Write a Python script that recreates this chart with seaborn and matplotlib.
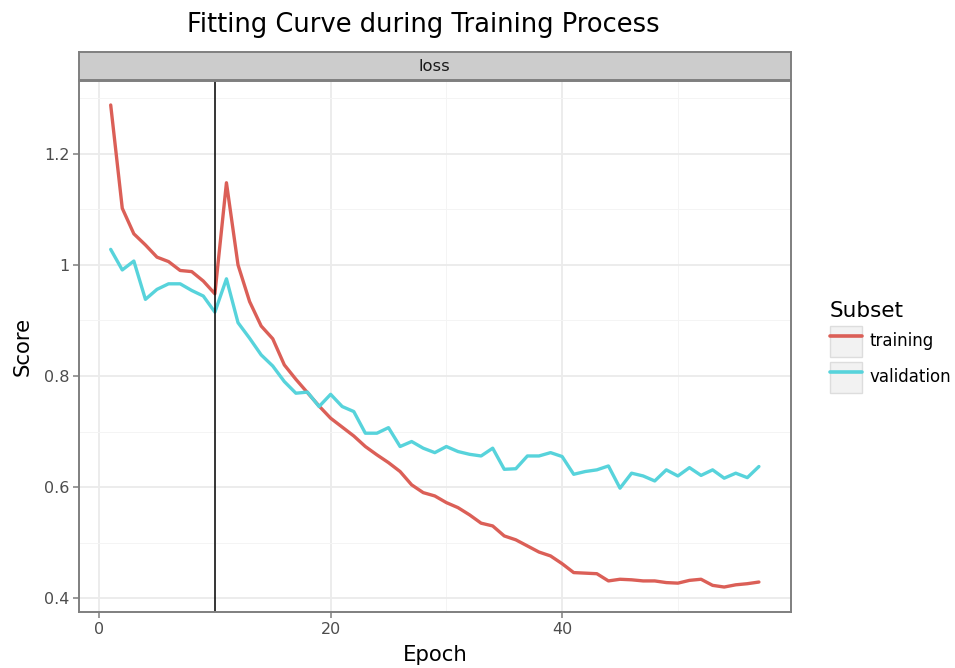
import numpy as np
import pandas as pd
import matplotlib
matplotlib.use("Agg")
import matplotlib.pyplot as plt
from matplotlib.patches import Patch
from matplotlib.lines import Line2D
from matplotlib.legend_handler import HandlerTuple
from matplotlib.ticker import MultipleLocator
import seaborn as sns

# values
epochs = list(range(1, 58))
training = [1.288, 1.102, 1.056, 1.036, 1.014, 1.006, 0.990, 0.988, 0.971, 0.948,
            1.148, 1.000, 0.934, 0.890, 0.867, 0.820, 0.794, 0.770, 0.746, 0.724,
            0.708, 0.692, 0.673, 0.658, 0.644, 0.628, 0.604, 0.590, 0.584, 0.572,
            0.563, 0.550, 0.535, 0.530, 0.512, 0.505, 0.494, 0.483, 0.476, 0.462,
            0.446, 0.445, 0.444, 0.431, 0.434, 0.433, 0.431, 0.431, 0.428, 0.427,
            0.432, 0.434, 0.423, 0.420, 0.424, 0.426, 0.429]
validation = [1.028, 0.991, 1.007, 0.938, 0.956, 0.966, 0.966, 0.954, 0.944, 0.915,
              0.975, 0.896, 0.868, 0.838, 0.818, 0.790, 0.769, 0.771, 0.745, 0.767,
              0.745, 0.736, 0.697, 0.697, 0.707, 0.673, 0.682, 0.670, 0.662, 0.673,
              0.664, 0.659, 0.656, 0.670, 0.632, 0.633, 0.656, 0.656, 0.662, 0.655,
              0.623, 0.628, 0.631, 0.638, 0.598, 0.625, 0.620, 0.611, 0.631, 0.620,
              0.635, 0.621, 0.631, 0.616, 0.625, 0.617, 0.637]
subsets = ["training", "validation"]
colors = ["#DB5F57", "#57D3DB"]
marker_epoch = 10

df = pd.DataFrame({
    "Epoch": epochs * 2,
    "Score": training + validation,
    "Subset": ["training"] * len(epochs) + ["validation"] * len(epochs),
})

sns.set_theme(style="white")
plt.rcParams["font.family"] = ["DejaVu Sans"]
plt.rcParams["text.color"] = "black"
plt.rcParams["axes.labelcolor"] = "black"

fig = plt.figure(figsize=(9.55, 6.68), dpi=100)
ax = fig.add_axes([0.0827, 0.0838, 0.7453, 0.7952])

grey = "#7F7F7F"
ax.set_facecolor("white")
ax.xaxis.set_major_locator(MultipleLocator(20))
ax.xaxis.set_minor_locator(MultipleLocator(10))
ax.yaxis.set_major_locator(MultipleLocator(0.2))
ax.yaxis.set_minor_locator(MultipleLocator(0.1))
ax.grid(which="major", color="#EBEBEB", linewidth=1.3)
ax.grid(which="minor", color="#F4F4F4", linewidth=0.7)
ax.set_axisbelow(True)

sns.lineplot(data=df, x="Epoch", y="Score", hue="Subset", hue_order=subsets,
             palette=colors, linewidth=2.4, ax=ax, legend=False)
ax.axvline(marker_epoch, color="black", linewidth=1.1)

ax.set_xlim(-1.74, 59.75)
ax.set_ylim(0.375, 1.3315)
ax.set_xticks([0, 20, 40])
ax.set_yticks([0.4, 0.6, 0.8, 1.0, 1.2])
ax.set_yticklabels(["0.4", "0.6", "0.8", "1", "1.2"])

for s in ax.spines.values():
    s.set_color(grey)
    s.set_linewidth(1.4)
ax.tick_params(which="major", direction="out", length=4, width=1.1, color=grey,
               labelsize=11.5, labelcolor="#4D4D4D", pad=3,
               bottom=True, left=True)
ax.tick_params(which="minor", length=0)
ax.set_xlabel("Epoch", fontsize=15.3, labelpad=6)
ax.set_ylabel("Score", fontsize=15.3, labelpad=8)

# facet strip
strip = fig.add_axes([0.0827, 0.8802, 0.7453, 0.0419])
strip.set_facecolor("#CCCCCC")
strip.set_xticks([])
strip.set_yticks([])
for s in strip.spines.values():
    s.set_color(grey)
    s.set_linewidth(1.4)
strip.text(0.5, 0.47, "loss", ha="center", va="center", fontsize=11.8,
           color="#1A1A1A", transform=strip.transAxes)

fig.text(0.443, 0.963, "Fitting Curve during Training Process",
         ha="center", va="center", fontsize=18.5)

handles = [(Patch(facecolor="#F2F2F2", edgecolor="#DDDDDD", linewidth=1.0),
            Line2D([], [], color=c, linewidth=2.6)) for c in colors]
leg = fig.legend(handles, subsets, title="Subset", loc="upper left",
                 bbox_to_anchor=(0.857, 0.567), frameon=False,
                 handler_map={tuple: HandlerTuple(ndivide=1)},
                 handlelength=1.92, handleheight=2.48, labelspacing=0.3,
                 handletextpad=0.42, fontsize=12, title_fontsize=15.5,
                 borderpad=0.2)
leg._legend_box.align = "left"

fig.savefig("out.png", dpi=100)
